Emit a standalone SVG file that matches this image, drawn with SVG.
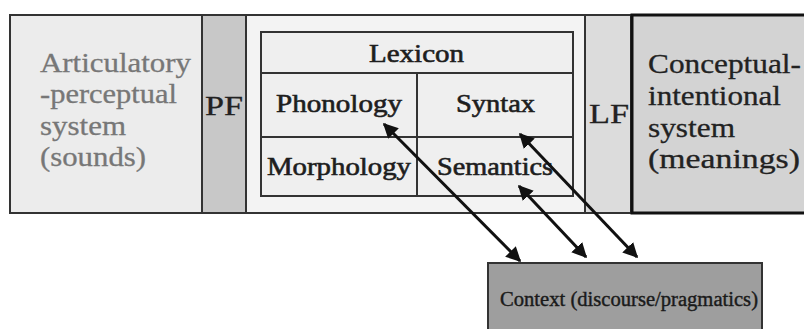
<svg xmlns="http://www.w3.org/2000/svg" width="804" height="329" viewBox="0 0 804 329">
<defs>
<style>
.box{stroke:#333;stroke-width:2}
text{font-family:"Liberation Serif",serif;}
.gray{fill:#777;font-size:27px;stroke:#777;stroke-width:0.3}
.dark{fill:#222;font-size:27px;stroke:#222;stroke-width:0.3}
.cell{fill:#1e1e1e;font-size:25px;stroke:#1e1e1e;stroke-width:0.6}
.arr{stroke:#111;stroke-width:3;fill:none;marker-start:url(#h);marker-end:url(#h)}
</style>
<marker id="h" viewBox="0 0 10 10" refX="9" refY="5" markerWidth="5" markerHeight="5" orient="auto-start-reverse" markerUnits="strokeWidth">
<path d="M0,0 L10,5 L0,10 z" fill="#111"/>
</marker>
</defs>
<rect width="804" height="329" fill="#fff"/>
<g id="articulatory">
<rect class="box" x="10" y="15" width="192" height="198" fill="#ececec"/>
<text class="gray" x="40" y="72" textLength="151" lengthAdjust="spacingAndGlyphs">Articulatory</text>
<text class="gray" x="40" y="103" textLength="137" lengthAdjust="spacingAndGlyphs">-perceptual</text>
<text class="gray" x="40" y="135" textLength="86" lengthAdjust="spacingAndGlyphs">system</text>
<text class="gray" x="40" y="166" textLength="106" lengthAdjust="spacingAndGlyphs">(sounds)</text>
</g>
<g id="pf">
<rect class="box" x="202" y="15" width="44" height="198" fill="#c8c8c8"/>
<text class="dark" x="205" y="115" textLength="38" lengthAdjust="spacingAndGlyphs">PF</text>
</g>
<g id="middle">
<rect class="box" x="246" y="15" width="339" height="198" fill="#f3f3f3"/>
</g>
<g id="lexicon">
<rect class="box" x="261" y="32" width="312" height="41" fill="#efefef"/>
<text class="cell" x="369" y="62" textLength="95" lengthAdjust="spacingAndGlyphs">Lexicon</text>
</g>
<g id="phonology">
<rect class="box" x="261" y="73" width="156" height="64" fill="#efefef"/>
<text class="cell" x="276" y="112" textLength="126" lengthAdjust="spacingAndGlyphs">Phonology</text>
</g>
<g id="syntax">
<rect class="box" x="417" y="73" width="156" height="64" fill="#efefef"/>
<text class="cell" x="456" y="112" textLength="79" lengthAdjust="spacingAndGlyphs">Syntax</text>
</g>
<g id="morphology">
<rect class="box" x="261" y="137" width="156" height="59" fill="#efefef"/>
<text class="cell" x="267" y="175" textLength="144" lengthAdjust="spacingAndGlyphs">Morphology</text>
</g>
<g id="semantics">
<rect class="box" x="417" y="137" width="156" height="59" fill="#efefef"/>
<text class="cell" x="437" y="175" textLength="116" lengthAdjust="spacingAndGlyphs">Semantics</text>
</g>
<g id="lf">
<rect class="box" x="585" y="15" width="46" height="198" fill="#dcdcdc"/>
<text class="dark" x="589" y="123" textLength="40" lengthAdjust="spacingAndGlyphs">LF</text>
</g>
<g id="conceptual">
<rect x="632" y="15" width="180" height="198" fill="#d3d3d3" stroke="#111" stroke-width="3"/>
<text class="dark" x="648" y="73" textLength="153" lengthAdjust="spacingAndGlyphs">Conceptual-</text>
<text class="dark" x="648" y="105" textLength="133" lengthAdjust="spacingAndGlyphs">intentional</text>
<text class="dark" x="648" y="137" textLength="87" lengthAdjust="spacingAndGlyphs">system</text>
<text class="dark" x="648" y="168" textLength="152" lengthAdjust="spacingAndGlyphs">(meanings)</text>
</g>
<g id="context">
<rect x="488" y="263" width="274" height="80" fill="#9e9e9e" stroke="#333" stroke-width="2"/>
<text x="500" y="306" font-size="20" fill="#1a1a1a" stroke="#1a1a1a" stroke-width="0.4" textLength="258" lengthAdjust="spacingAndGlyphs">Context (discourse/pragmatics)</text>
</g>
<g id="connectors">
<line class="arr" x1="384" y1="124" x2="520" y2="261"/>
<line class="arr" x1="519" y1="186" x2="586" y2="257"/>
<line class="arr" x1="520" y1="134" x2="637" y2="257"/>
</g>
</svg>
